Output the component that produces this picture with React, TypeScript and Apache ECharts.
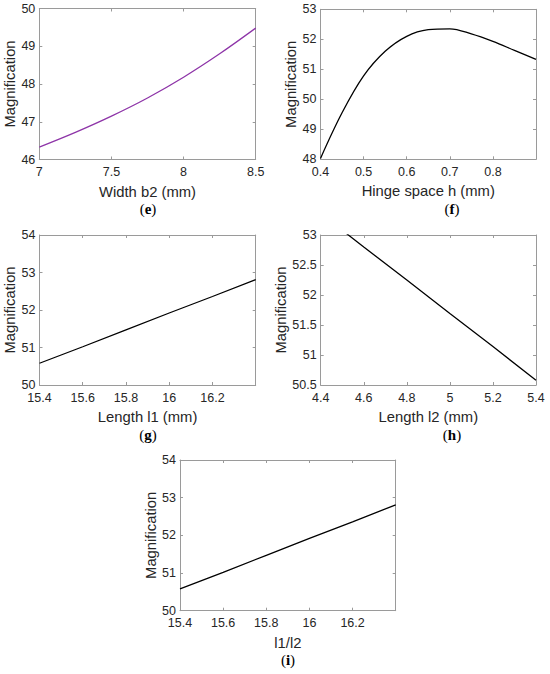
import React, { useEffect, useRef } from "react";
import * as echarts from "echarts";

// ---- Data ----
const widthB2 = [7, 7.25, 7.5, 7.75, 8, 8.25, 8.5];
const magByWidthB2 = [46.33, 46.72, 47.15, 47.63, 48.18, 48.8, 49.48];

const hingeSpaceH = [0.4, 0.45, 0.5, 0.55, 0.6, 0.65, 0.7, 0.75, 0.8, 0.85, 0.9];
const magByHingeH = [48.03, 49.55, 50.78, 51.6, 52.1, 52.32, 52.35, 52.18, 51.93, 51.63, 51.33];

const lengthL1 = [15.4, 15.6, 15.8, 16.0, 16.2, 16.4];
const magByL1 = [50.58, 51.02, 51.47, 51.92, 52.36, 52.81];

const lengthL2 = [4.4, 4.6, 4.8, 5.0, 5.2, 5.4];
const magByL2 = [53.36, 52.8, 52.25, 51.69, 51.14, 50.58];

const ratioL1L2 = [15.4, 15.6, 15.8, 16.0, 16.2, 16.4];
const magByRatio = [50.58, 51.02, 51.47, 51.92, 52.36, 52.81];

// tick labels
const ticksXe = [7, 7.5, 8, 8.5];
const ticksYe = [46, 47, 48, 49, 50];
const ticksXf = [0.4, 0.5, 0.6, 0.7, 0.8];
const ticksYf = [48, 49, 50, 51, 52, 53];
const ticksXg = [15.4, 15.6, 15.8, 16, 16.2];
const ticksYg = [50, 51, 52, 53, 54];
const ticksXh = [4.4, 4.6, 4.8, 5, 5.2, 5.4];
const ticksYh = [50.5, 51, 51.5, 52, 52.5, 53];
const ticksXi = [15.4, 15.6, 15.8, 16, 16.2];
const ticksYi = [50, 51, 52, 53, 54];

const xTitles = ["Width b2 (mm)", "Hinge space h (mm)", "Length l1 (mm)", "Length l2 (mm)", "l1/l2"];
const yTitle = "Magnification";
const captions = ["e", "f", "g", "h", "i"];

// ---- Layout / style ----
const SANS = "'Liberation Sans', Arial, sans-serif";
const SERIF = "'Liberation Serif', 'Times New Roman', serif";
const AXIS_COLOR = "#9a9a9a";
const TEXT_COLOR = "#262626";

const panels = [
  { box: [39.3, 8.5, 216.4, 151], xr: [7, 8.5], yr: [46, 50], xt: ticksXe, yt: ticksYe, xs: widthB2, ys: magByWidthB2, color: "#8e35a8", smooth: 0.35, yGap: 20, cap: [148, 209] },
  { box: [320.5, 9.3, 215.5, 150], xr: [0.4, 0.9], yr: [48, 53], xt: ticksXf, yt: ticksYf, xs: hingeSpaceH, ys: magByHingeH, color: "#000000", smooth: 0.35, yGap: 21.5, cap: [452, 209] },
  { box: [39.5, 235, 216.2, 150], xr: [15.4, 16.4], yr: [50, 54], xt: ticksXg, yt: ticksYg, xs: lengthL1, ys: magByL1, color: "#000000", smooth: false, yGap: 21, cap: [148, 435] },
  { box: [320.7, 235, 215.3, 150], xr: [4.4, 5.4], yr: [50.5, 53], xt: ticksXh, yt: ticksYh, xs: lengthL2, ys: magByL2, color: "#000000", smooth: false, yGap: 21, cap: [452, 435] },
  { box: [180, 460, 215.7, 150.7], xr: [15.4, 16.4], yr: [50, 54], xt: ticksXi, yt: ticksYi, xs: ratioL1L2, ys: magByRatio, color: "#000000", smooth: false, yGap: 22, cap: [288, 660] },
];

export default function App() {
  const ref = useRef<HTMLDivElement>(null);

  useEffect(() => {
    if (!ref.current) return;
    const chart = echarts.init(ref.current, undefined, { renderer: "svg" });

    const lineStyle = { color: AXIS_COLOR, width: 1 };
    const labelStyle = { color: TEXT_COLOR, fontSize: 12.5, fontFamily: SANS };
    const nameStyle = { color: TEXT_COLOR, fontSize: 14.8, fontFamily: SANS };

    const grid: any[] = [];
    const xAxis: any[] = [];
    const yAxis: any[] = [];
    const series: any[] = [];
    const graphic: any[] = [];

    panels.forEach((p, i) => {
      grid.push({
        left: p.box[0],
        top: p.box[1],
        width: p.box[2],
        height: p.box[3],
        containLabel: false,
        outerBoundsMode: "none",
      });
      xAxis.push({
        type: "value",
        gridIndex: i,
        position: "bottom",
        min: p.xr[0],
        max: p.xr[1],
        name: xTitles[i],
        nameLocation: "middle",
        nameGap: 24.5,
        nameTextStyle: nameStyle,
        axisLine: { show: true, onZero: false, lineStyle },
        axisTick: { show: true, inside: true, length: 3, lineStyle, customValues: p.xt },
        axisLabel: { ...labelStyle, margin: 6, customValues: p.xt },
        splitLine: { show: false },
      });
      xAxis.push({
        type: "value",
        gridIndex: i,
        position: "top",
        min: p.xr[0],
        max: p.xr[1],
        axisLine: { show: true, onZero: false, lineStyle },
        axisTick: { show: true, inside: true, length: 3, lineStyle, customValues: p.xt },
        axisLabel: { show: false },
        splitLine: { show: false },
      });
      yAxis.push({
        type: "value",
        gridIndex: i,
        position: "left",
        min: p.yr[0],
        max: p.yr[1],
        name: yTitle,
        nameLocation: "middle",
        nameGap: p.yGap,
        nameTextStyle: nameStyle,
        axisLine: { show: true, onZero: false, lineStyle },
        axisTick: { show: true, inside: true, length: 3, lineStyle, customValues: p.yt },
        axisLabel: { ...labelStyle, margin: 4, customValues: p.yt },
        splitLine: { show: false },
      });
      yAxis.push({
        type: "value",
        gridIndex: i,
        position: "right",
        min: p.yr[0],
        max: p.yr[1],
        axisLine: { show: true, onZero: false, lineStyle },
        axisTick: { show: true, inside: true, length: 3, lineStyle, customValues: p.yt },
        axisLabel: { show: false },
        splitLine: { show: false },
      });
      series.push({
        type: "line",
        xAxisIndex: 2 * i,
        yAxisIndex: 2 * i,
        data: p.xs.map((x, k) => [x, p.ys[k]]),
        symbol: "none",
        showSymbol: false,
        smooth: p.smooth,
        clip: true,
        lineStyle: { color: p.color, width: 1.3 },
        silent: true,
      });
      graphic.push({
        type: "text",
        x: p.cap[0],
        y: p.cap[1],
        style: {
          text: `{p|(}{b|${captions[i]}}{p|)}`,
          align: "center",
          verticalAlign: "middle",
          rich: {
            p: { fontFamily: SERIF, fontSize: 15, fill: "#000", fontWeight: "normal" },
            b: { fontFamily: SERIF, fontSize: 15, fill: "#000", fontWeight: "bold" },
          },
        },
      });
    });

    chart.setOption({
      animation: false,
      backgroundColor: "#ffffff",
      grid,
      xAxis,
      yAxis,
      series,
      graphic,
    });

    return () => chart.dispose();
  }, []);

  return (
    <div
      ref={ref}
      style={{ position: "fixed", left: 0, top: 0, width: 550, height: 674, background: "#fff" }}
    />
  );
}
